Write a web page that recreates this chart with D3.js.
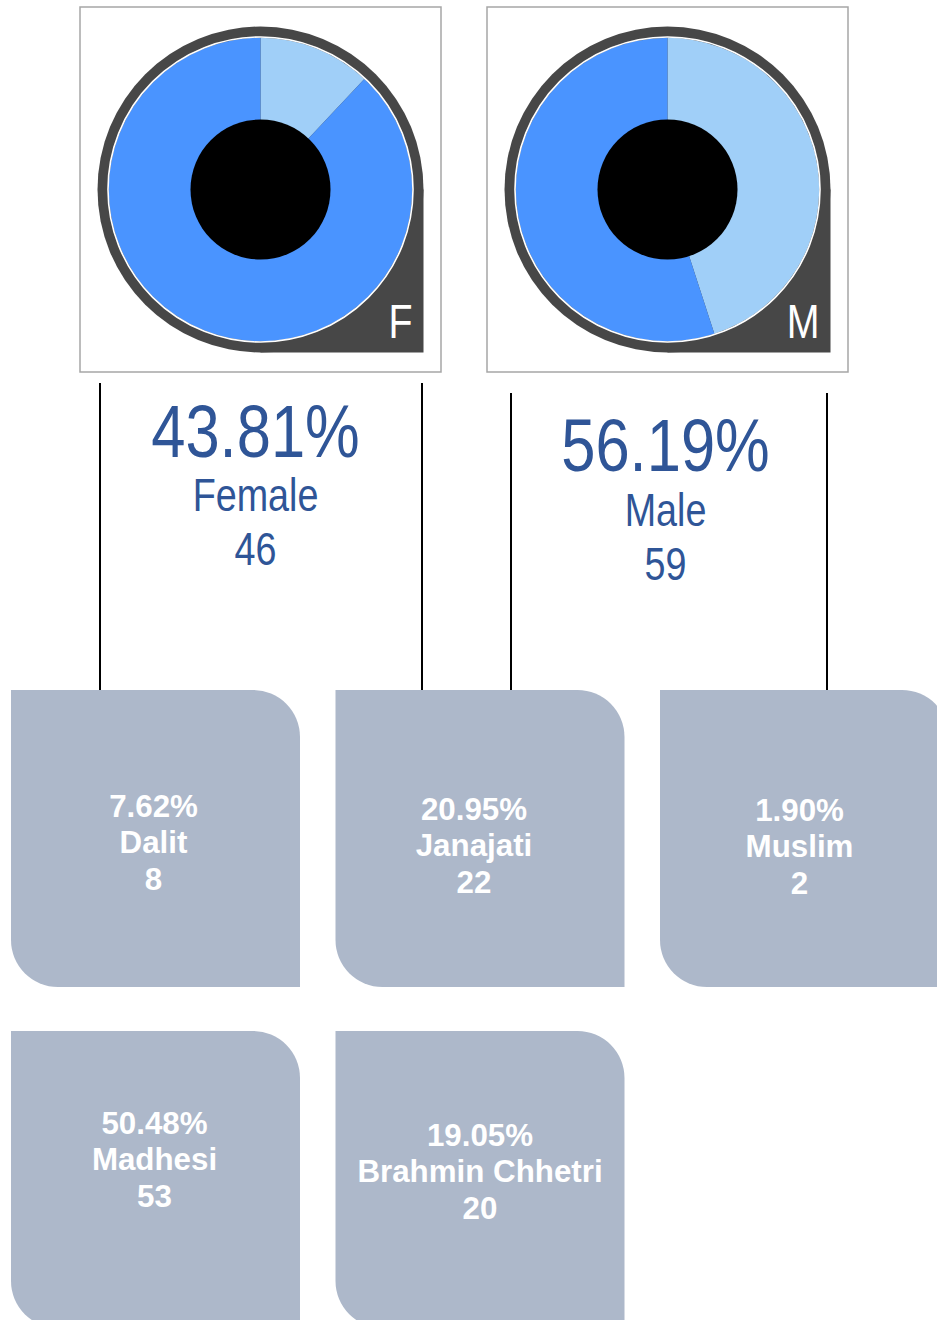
<!DOCTYPE html>
<html>
<head>
<meta charset="utf-8">
<script src="https://cdn.jsdelivr.net/npm/d3@7"></script>
<style>
  html, body { margin: 0; padding: 0; background: #fff; }
  svg { display: block; }
</style>
</head>
<body>
<script>
// ---------------- data ----------------
const genders      = ["Female", "Male"];
const genderLetter = ["F", "M"];
const genderCount  = [46, 59];
// donut shares (light slice first)
const donutLight   = [0.12, 0.45];
const donutDark    = [0.88, 0.55];

const groups      = ["Dalit", "Janajati", "Muslim", "Madhesi", "Brahmin Chhetri"];
const groupCount  = [8, 22, 2, 53, 20];

const total = d3.sum(groupCount);
const pct = v => (v / total * 100).toFixed(2) + "%";

// ---------------- layout / style ----------------
const W = 937, H = 1320;
const sans = "'Liberation Sans',Arial,sans-serif";
const squeeze = 0.82;   // narrow look of the original typeface
const textBlue = "#2f5597";
const blue = "#4a94ff", light = "#a0cff8", dark = "#474747";
const boxFill = "#adb8ca";

const svg = d3.select("body").append("svg").attr("width", W).attr("height", H);

function narrowText(sel, x, y, size, fill, anchor, t) {
  return sel.append("text")
    .attr("transform", `translate(${x},${y}) scale(${squeeze},1)`)
    .attr("text-anchor", anchor).attr("fill", fill)
    .style("font-family", sans).style("font-size", size + "px")
    .text(t);
}

// gender panels
const gx = d3.scaleLinear().domain([0, 1]).range([80, 487]);
const panelW = 361, panelH = 365, panelY = 7;
const R = 163, rPie = 151.7, rHole = 70;
const pie = d3.pie().sort(null).startAngle(0).endAngle(2 * Math.PI);
const arc = d3.arc().innerRadius(0).outerRadius(rPie);

const lineTop = [383, 393];
const lineX = [[100, 422], [511, 827]];
const labelDx = [-5, -2];
const labelY = [[457, 511, 565], [471, 526, 580]];

genders.forEach((g, i) => {
  const x0 = gx(i);
  const cx = x0 + 180.5, cy = panelY + 182.5;
  const p = svg.append("g");
  p.append("rect").attr("x", x0).attr("y", panelY).attr("width", panelW).attr("height", panelH)
    .attr("fill", "#fff").attr("stroke", "#a6a6a6").attr("stroke-width", 1.5);
  // teardrop backdrop
  p.append("circle").attr("cx", cx).attr("cy", cy).attr("r", R).attr("fill", dark);
  p.append("rect").attr("x", cx).attr("y", cy).attr("width", R).attr("height", R).attr("fill", dark);
  // pie
  const slices = pie([donutLight[i], donutDark[i]]);
  p.append("g").attr("transform", `translate(${cx},${cy})`)
    .selectAll("path").data(slices).join("path")
      .attr("d", arc)
      .attr("fill", (d, j) => j === 0 ? light : blue);
  p.append("circle").attr("cx", cx).attr("cy", cy).attr("r", rPie + 0.8)
    .attr("fill", "none").attr("stroke", "#fff").attr("stroke-width", 1.6);
  p.append("circle").attr("cx", cx).attr("cy", cy).attr("r", rHole).attr("fill", "#000");
  narrowText(p, cx + R - 11, cy + 148.5, 48, "#fff", "end", genderLetter[i]);

  // connector lines
  lineX[i].forEach(lx => {
    svg.append("line").attr("x1", lx).attr("x2", lx).attr("y1", lineTop[i]).attr("y2", 690)
      .attr("stroke", "#000").attr("stroke-width", 2);
  });

  // labels
  const tx = cx + labelDx[i];
  const lines = [pct(genderCount[i]), g, String(genderCount[i])];
  const sizes = [75, 46, 46];
  lines.forEach((t, k) => {
    narrowText(svg, tx, labelY[i][k], sizes[k], textBlue, "middle", t);
  });
});

// group boxes
const bx = d3.scaleLinear().domain([0, 1]).range([11, 335.5]);
const by = d3.scaleLinear().domain([0, 1]).range([690, 1031]);
const bw = 289, bh = 297, rr = 47;
const textOffset = [[-2, 163], [-6, 166], [-5, 167], [-1, 139], [0, 151]];

function boxPath(x, y, w, h, r) {
  return `M${x},${y} H${x + w - r} A${r},${r} 0 0 1 ${x + w},${y + r} V${y + h} H${x + r} A${r},${r} 0 0 1 ${x},${y + h - r} Z`;
}

groups.forEach((g, i) => {
  const col = i % 3, row = Math.floor(i / 3);
  const x = bx(col), y = by(row);
  svg.append("path").attr("d", boxPath(x, y, bw, bh, rr)).attr("fill", boxFill);
  const tx = x + bw / 2 + textOffset[i][0];
  const ty = y + textOffset[i][1];
  const lines = [pct(groupCount[i]), g, String(groupCount[i])];
  lines.forEach((t, k) => {
    svg.append("text").attr("x", tx).attr("y", ty + (k - 1) * 36.5)
      .attr("text-anchor", "middle").attr("fill", "#fff")
      .style("font-family", sans).style("font-weight", "bold").style("font-size", "31.3px")
      .text(t);
  });
});
</script>
</body>
</html>
